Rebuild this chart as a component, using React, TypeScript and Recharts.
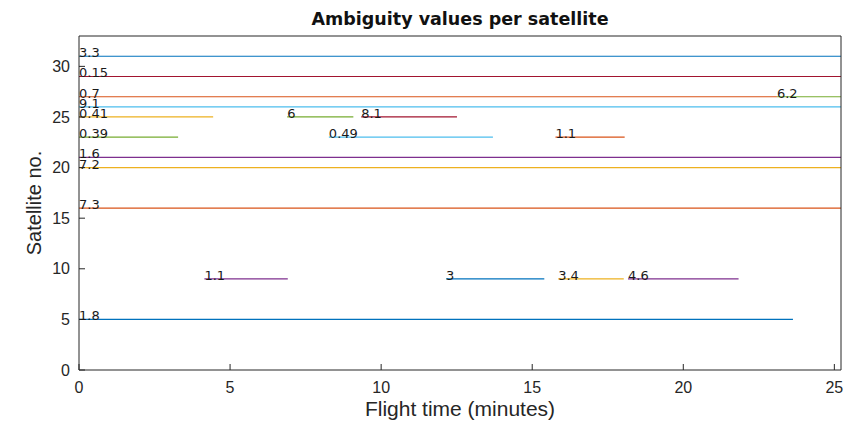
import { LineChart, Line, XAxis, YAxis, Label } from "recharts";

// one entry per horizontal segment: satellite, start/end time (min), ambiguity
const SATELLITE = [31, 29, 27, 27, 26, 25, 25, 25, 23, 23, 23, 21, 20, 16, 9, 9, 9, 9, 5];
const T_START = [0, 0, 0, 23.1, 0, 0, 6.89, 9.34, 0, 8.27, 15.77, 0, 0, 0, 4.15, 12.15, 15.86, 18.17, 0];
const T_END = [25.22, 25.22, 23.1, 25.22, 25.22, 4.44, 9.08, 12.51, 3.28, 13.7, 18.06, 25.22, 25.22, 25.22, 6.91, 15.4, 18.03, 21.83, 23.63];
const AMBIGUITY = [3.3, 0.15, 0.7, 6.2, 9.1, 0.41, 6, 8.1, 0.39, 0.49, 1.1, 1.6, 7.2, 7.3, 1.1, 3, 3.4, 4.6, 1.8];

const X_TICKS = [0, 5, 10, 15, 20, 25];
const Y_TICKS = [0, 5, 10, 15, 20, 25, 30];
const X_MAX = 25.22;
const Y_MAX = 33;

const BLUE = "#0072BD";
const ORANGE = "#D95319";
const YELLOW = "#EDB120";
const PURPLE = "#7E2F8E";
const GREEN = "#77AC30";
const CYAN = "#4DBEEE";
const RED = "#A2142F";
const SEG_COLORS = [BLUE, RED, ORANGE, GREEN, CYAN, YELLOW, GREEN, RED, GREEN, CYAN, ORANGE, PURPLE, YELLOW, ORANGE, PURPLE, BLUE, YELLOW, PURPLE, BLUE];

const AXIS = "#262626";
const TICK_FONT = { fontSize: 16, fill: AXIS, fontFamily: "'Liberation Sans', Arial, sans-serif" };
const LABEL_FONT = "'Liberation Sans', Arial, sans-serif";

const segments = SATELLITE.map((sat, i) => ({
  data: [
    { t: T_START[i], sat },
    { t: T_END[i], sat },
  ],
  amb: AMBIGUITY[i],
  color: SEG_COLORS[i],
}));

export default function App() {
  return (
    <div style={{ position: "absolute", left: 0, top: 0, background: "#fff" }}>
      <LineChart width={856} height={429} margin={{ top: 35, right: 14, bottom: 0, left: 0 }}>
        <XAxis
          dataKey="t"
          type="number"
          domain={[0, X_MAX]}
          allowDataOverflow
          ticks={X_TICKS}
          interval={0}
          height={59}
          tickSize={-6}
          tickMargin={18}
          tick={TICK_FONT}
          axisLine={{ stroke: AXIS }}
          tickLine={{ stroke: AXIS }}
        >
          <Label
            content={({ viewBox }: any) => (
              <text
                x={viewBox.x + viewBox.width / 2}
                y={viewBox.y + 46}
                textAnchor="middle"
                fontSize={21}
                fontFamily={LABEL_FONT}
                fill={AXIS}
              >
                Flight time (minutes)
              </text>
            )}
          />
        </XAxis>
        {/* box edges: top and right axes carry inward ticks only */}
        <XAxis
          xAxisId="top"
          dataKey="t"
          orientation="top"
          type="number"
          domain={[0, X_MAX]}
          allowDataOverflow
          ticks={X_TICKS}
          interval={0}
          height={1}
          tickSize={-6}
          tick={false}
          axisLine={{ stroke: AXIS }}
          tickLine={{ stroke: AXIS }}
        >
          <Label
            content={({ viewBox }: any) => (
              <text
                x={viewBox.x + viewBox.width / 2}
                y={viewBox.y - 10}
                textAnchor="middle"
                fontSize={17.5}
                fontWeight="bold"
                fontFamily="'DejaVu Sans', sans-serif"
                fill="#111"
              >
                Ambiguity values per satellite
              </text>
            )}
          />
        </XAxis>
        <YAxis
          type="number"
          domain={[0, Y_MAX]}
          allowDataOverflow
          ticks={Y_TICKS}
          interval={0}
          width={79}
          tickSize={-6}
          tickMargin={15}
          tick={TICK_FONT}
          axisLine={{ stroke: AXIS }}
          tickLine={{ stroke: AXIS }}
        >
          <Label
            content={({ viewBox }: any) => {
              const cx = viewBox.x + 41;
              const cy = viewBox.y + viewBox.height / 2;
              return (
                <text
                  x={cx}
                  y={cy}
                  transform={`rotate(-90, ${cx}, ${cy})`}
                  textAnchor="middle"
                  fontSize={20}
                  fontFamily={LABEL_FONT}
                  fill={AXIS}
                >
                  Satellite no.
                </text>
              );
            }}
          />
        </YAxis>
        <YAxis
          yAxisId="right"
          orientation="right"
          type="number"
          domain={[0, Y_MAX]}
          allowDataOverflow
          ticks={Y_TICKS}
          interval={0}
          width={1}
          tickSize={-6}
          tick={false}
          axisLine={{ stroke: AXIS }}
          tickLine={{ stroke: AXIS }}
        />
        {segments.map((s, i) => (
          <Line
            key={i}
            // the first segment is bound to the box axes so they get drawn; domains are identical
            xAxisId={i === 0 ? "top" : 0}
            yAxisId={i === 0 ? "right" : 0}
            data={s.data}
            dataKey="sat"
            type="linear"
            stroke={s.color}
            strokeWidth={1.2}
            dot={false}
            activeDot={false}
            isAnimationActive={false}
            label={(p: any) =>
              p.index === 0 ? (
                <text
                  key={`lbl-${i}`}
                  x={p.x}
                  y={p.y + 1}
                  fontSize={13}
                  fontFamily="'DejaVu Sans', sans-serif"
                  fill="#1a1a1a"
                >
                  {s.amb}
                </text>
              ) : null
            }
          />
        ))}
      </LineChart>
    </div>
  );
}
